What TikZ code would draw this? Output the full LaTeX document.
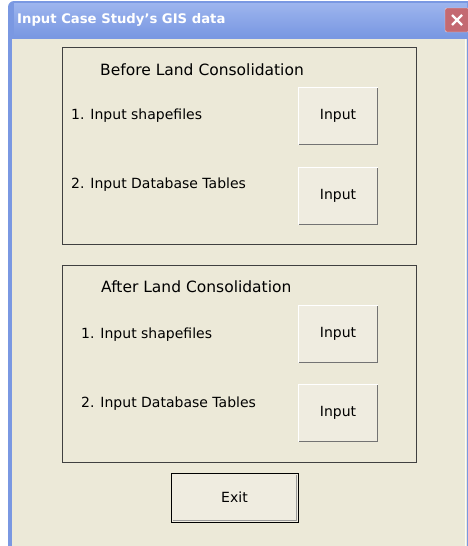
\documentclass[tikz,border=0pt]{standalone}
\usepackage{fontspec}
\setmainfont{DejaVu Sans}
\usetikzlibrary{positioning,shadings}
\definecolor{dlgface}{HTML}{ECE9D8}
\definecolor{btnface}{HTML}{EFECE0}
\definecolor{titleblue}{HTML}{7A98E2}
\definecolor{titlelight}{HTML}{9DB5EE}
\definecolor{closered}{HTML}{C46A72}
\begin{document}
\begin{tikzpicture}
	[x=1pt, y=-1pt,
	grp/.style={draw=black!75, line width=0.9pt},
	btn/.style={fill=btnface, minimum width=80pt, minimum height=58pt, inner sep=0pt, font=\fontsize{14}{16}\selectfont},
	lbl/.style={anchor=west, inner sep=0pt, font=\fontsize{14}{16}\selectfont},
	hdr/.style={anchor=west, inner sep=0pt, font=\fontsize{15.5}{18}\selectfont}]
	\useasboundingbox (0,0) rectangle (467,546);
	\fill[white] (0,0) rectangle (467,546);

	% Window frame and title bar
	\fill[titleblue, rounded corners=6pt] (8,1) rectangle (480,560);
	\shade[top color=titlelight, bottom color=titleblue] (14,3) rectangle (467,36);
	\fill[dlgface] (12,39) rectangle (467,546);
	\draw[white!80!dlgface] (465,39) -- (465,546);
	\node[anchor=west, inner sep=0pt, text=white, font=\bfseries\fontsize{13.2}{15}\selectfont] (title) at (17,20) {Input Case Study's GIS data};
	\node[fill=closered, draw=white!70!closered, rounded corners=2pt, minimum width=24pt, minimum height=24pt] (close) at (457,20) {};
	\draw[white, line width=2.4pt] ([shift={(-5,-5)}]close.center) -- ([shift={(5,5)}]close.center)
		([shift={(-5,5)}]close.center) -- ([shift={(5,-5)}]close.center);

	% Before group
	\draw[grp] (62,47) rectangle (416,244);
	\node[hdr] (beforehdr) at (100,70) {Before Land Consolidation};
	\node[lbl] (beforeshp) at (71,116) {1. Input shapefiles};
	\node[lbl] (beforedb) at (71,185) {2. Input Database Tables};
	\node[btn] (beforeshpbtn) at (338,116) {Input};
	\node[btn] (beforedbbtn) at (338,196) {Input};

	% After group
	\draw[grp] (62,265) rectangle (416,462);
	\node[hdr] (afterhdr) at (101,287) {After Land Consolidation};
	\node[lbl] (aftershp) at (81,335) {1. Input shapefiles};
	\node[lbl] (afterdb) at (81,404) {2. Input Database Tables};
	\node[btn] (aftershpbtn) at (338,334) {Input};
	\node[btn] (afterdbbtn) at (338,413) {Input};

	% Exit button
	\node[btn, draw=black, line width=1pt, minimum width=127pt, minimum height=49pt] (exitbtn) at (234.5,497.5) {Exit};

	% Button edges
	\foreach \b in {beforeshpbtn,beforedbbtn,aftershpbtn,afterdbbtn}{
		\draw[white] (\b.south west) -- (\b.north west) -- (\b.north east);
		\draw[black!55, line width=1.4pt] ([shift={(0.7,-0.7)}]\b.south west) -- ([shift={(-0.7,-0.7)}]\b.south east) -- ([shift={(-0.7,0.7)}]\b.north east);
	}
	\draw[black!40, line width=0.8pt] ([shift={(2,-1.8)}]exitbtn.south west) -- ([shift={(-1.8,-1.8)}]exitbtn.south east) -- ([shift={(-1.8,2)}]exitbtn.north east);
\end{tikzpicture}
\end{document}
